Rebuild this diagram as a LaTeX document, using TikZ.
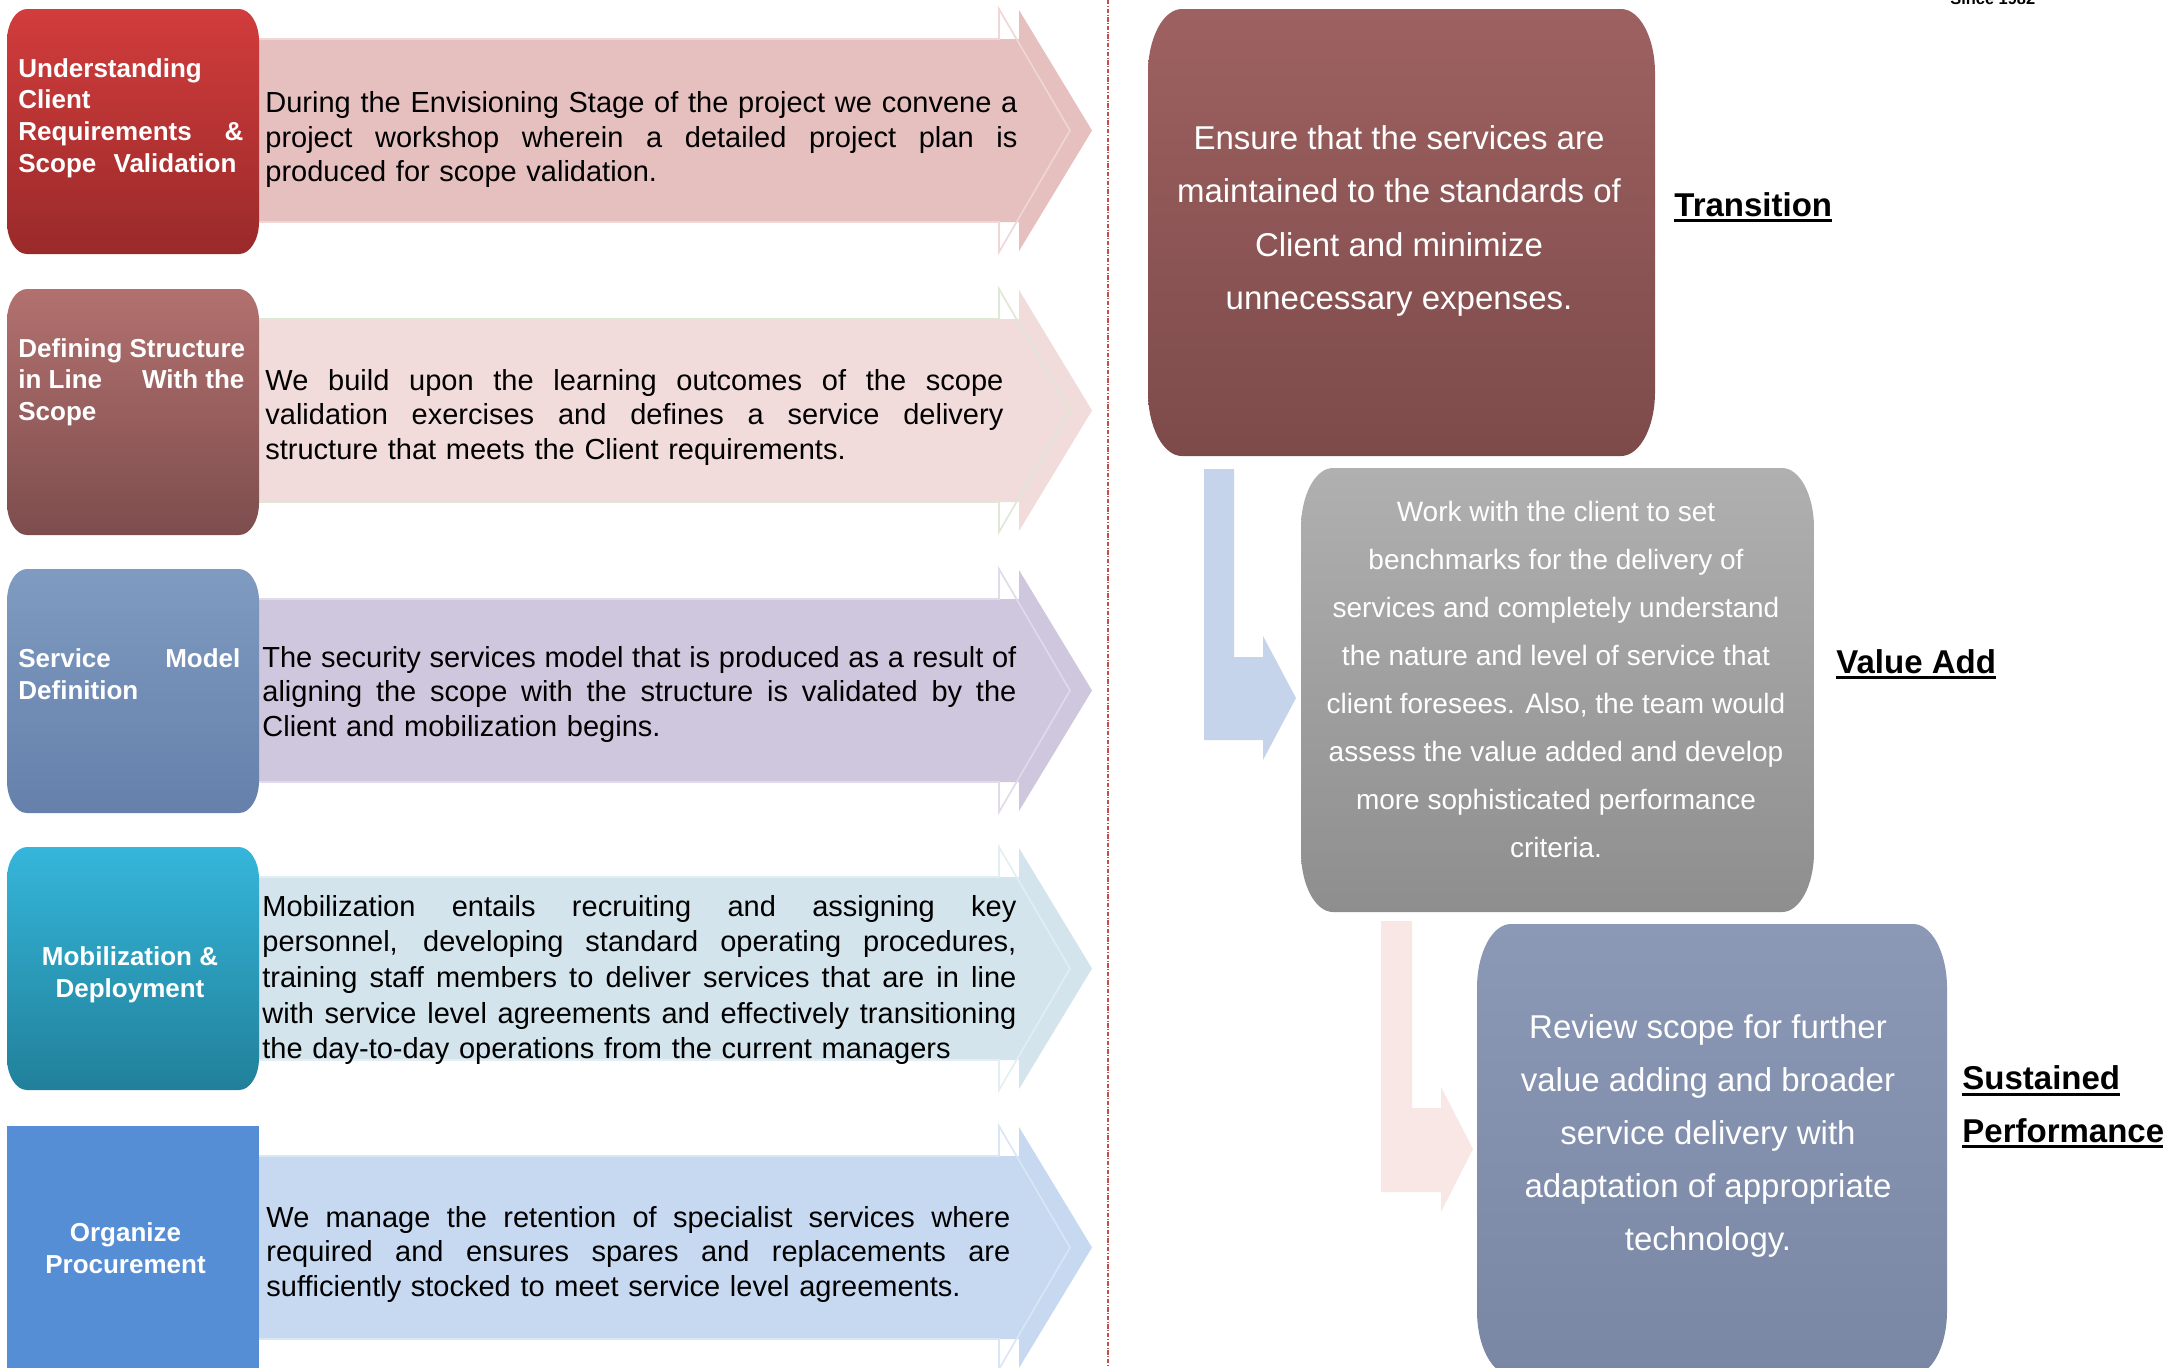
\documentclass[tikz,border=0pt]{standalone}
\usepackage{fontspec}
\setmainfont{Liberation Sans}
\definecolor{b1t}{HTML}{D23C3C}
\definecolor{b1b}{HTML}{9A2A2A}
\definecolor{b2t}{HTML}{B2716F}
\definecolor{b2b}{HTML}{7D4D4D}
\definecolor{b3t}{HTML}{7F9BC1}
\definecolor{b3b}{HTML}{6580AA}
\definecolor{b4t}{HTML}{35B6DA}
\definecolor{b4b}{HTML}{21809A}
\definecolor{b5}{HTML}{558ED5}
\definecolor{a1}{HTML}{E6BFBF}
\definecolor{a1o}{HTML}{F0D6D6}
\definecolor{a2}{HTML}{F2DCDB}
\definecolor{a2o}{HTML}{DDE8D5}
\definecolor{a3}{HTML}{CFC7DD}
\definecolor{a3o}{HTML}{E0DAEA}
\definecolor{a4}{HTML}{D3E4EC}
\definecolor{a4o}{HTML}{E3EEF3}
\definecolor{a5}{HTML}{C6D9F1}
\definecolor{a5o}{HTML}{D9E6F6}
\definecolor{trt}{HTML}{9E6161}
\definecolor{trb}{HTML}{7D4A4A}
\definecolor{grt}{HTML}{B0B0B0}
\definecolor{grb}{HTML}{8E8E8E}
\definecolor{blt}{HTML}{8B98B6}
\definecolor{blb}{HTML}{7987A4}
\definecolor{lblue}{HTML}{C5D4EB}
\definecolor{lpink}{HTML}{F8E7E5}
\definecolor{dred}{HTML}{C0504D}
% rounded box with elliptical corners: style, x0, y0, x1, y1, rx, ry
\newcommand\rbx[7]{%
 \path[#1] ({#2+#6},#3) -- ({#4-#6},#3)
  .. controls ({#4-0.448*#6},#3) and (#4,{#3+0.448*#7}) .. (#4,{#3+#7})
  -- (#4,{#5-#7})
  .. controls (#4,{#5-0.448*#7}) and ({#4-0.448*#6},#5) .. ({#4-#6},#5)
  -- ({#2+#6},#5)
  .. controls ({#2+0.448*#6},#5) and (#2,{#5-0.448*#7}) .. (#2,{#5-#7})
  -- (#2,{#3+#7})
  .. controls (#2,{#3+0.448*#7}) and ({#2+0.448*#6},#3) .. ({#2+#6},#3) -- cycle;}
% big stage arrow: top y, fill colour, outline colour
\newcommand\bigarr[3]{%
 \fill[#2] (258,{#1+30}) -- (1019,{#1+30}) -- (1019,{#1+1}) -- (1092,{#1+121.5})
   -- (1019,{#1+242}) -- (1019,{#1+213}) -- (258,{#1+213}) -- cycle;
 \draw[#3,line width=0.8pt] (258,{#1+30}) -- (999,{#1+30}) -- (999,{#1}) -- (1070,{#1+121.5})
   -- (999,{#1+243}) -- (999,{#1+213}) -- (258,{#1+213});}
\newlength\jw
\newcommand\jl[1]{\leavevmode\hbox to\jw{\spaceskip=0.278em plus 1em minus 0.08em\xspaceskip=\spaceskip #1}}
\newcommand\myul[1]{\setbox0\hbox{#1}\rlap{\rule[-3pt]{\wd0}{1.4pt}}\box0}
\begin{document}
\begin{tikzpicture}[x=0.5pt,y=-0.5pt,
  lbl/.style={text=white,font=\bfseries\fontsize{13}{15.85}\selectfont,inner sep=0pt},
  atxt/.style={text=black,font=\fontsize{14.5}{17.25}\selectfont,inner sep=0pt,
    anchor=west,align=left,text width=#1,execute at begin node={\setlength{\jw}{#1}}},
  rtxt/.style={text=white,inner sep=0pt,align=center},
  head/.style={text=black,font=\bfseries\fontsize{16.5}{20}\selectfont,inner sep=0pt,anchor=base west}]
\useasboundingbox (0,0) rectangle (2163,1367);
\fill[white] (0,0) rectangle (2163,1367);

% ---------- left column: arrows ----------
\bigarr{9}{a1}{a1o}
\bigarr{289}{a2}{a2o}
\bigarr{569}{a3}{a3o}
\bigarr{847}{a4}{a4o}
\bigarr{1126}{a5}{a5o}

% ---------- left column: boxes ----------
\rbx{top color=b1t,bottom color=b1b}{7}{9}{259}{254}{20}{32}
\rbx{top color=b2t,bottom color=b2b}{7}{289}{259}{535}{20}{32}
\rbx{top color=b3t,bottom color=b3b}{7}{569}{259}{813}{20}{32}
\rbx{top color=b4t,bottom color=b4b}{7}{847}{259}{1090}{20}{32}
\fill[b5] (7,1126) rectangle (259,1380);

\node[lbl,anchor=west,align=left] (s1) at (18,118)
  {Understanding\\Client\\\hbox to 112.5pt{Requirements\hfill\&}\\\hbox to 109pt{Scope\hfill Validation}};
\node[lbl,anchor=west,align=left] (s2) at (18,382)
  {Defining Structure\\\hbox to 113pt{in Line\hfill With the}\\Scope};
\node[lbl,anchor=west,align=left] (s3) at (18,674)
  {\hbox to 111pt{Service\hfill Model}\\Definition};
\node[lbl,align=center] (s4) at (130,975) {Mobilization \&\\Deployment};
\node[lbl,align=center] (s5) at (125.5,1248) {Organize\\Procurement};

\node[atxt=376pt] (d1) at (265,139.6)
  {\jl{During the Envisioning Stage of the project we convene a}\\
   \jl{project workshop wherein a detailed project plan is}\\
   produced for scope validation.};
\node[atxt=369pt] (d2) at (265,417)
  {\jl{We build upon the learning outcomes of the scope}\\
   \jl{validation exercises and defines a service delivery}\\
   structure that meets the Client requirements.};
\node[atxt=377pt] (d3) at (262,694)
  {\jl{The security services model that is produced as a result of}\\
   \jl{aligning the scope with the structure is validated by the}\\
   Client and mobilization begins.};
\node[atxt=377pt,font=\fontsize{14.5}{17.8}\selectfont] (d4) at (262,980)
  {\jl{Mobilization entails recruiting and assigning key}\\
   \jl{personnel, developing standard operating procedures,}\\
   \jl{training staff members to deliver services that are in line}\\
   \jl{with service level agreements and effectively transitioning}\\
   the day-to-day operations from the current managers};
\node[atxt=372pt] (d5) at (266,1254)
  {\jl{We manage the retention of specialist services where}\\
   \jl{required and ensures spares and replacements are}\\
   sufficiently stocked to meet service level agreements.};

% ---------- divider ----------
\coordinate (dtop) at (1108,0);
\coordinate (dbot) at (1108,1367);
\draw[dred,line width=0.7pt,dash pattern=on 2.2pt off 0.8pt on 0.5pt off 0.8pt] (dtop) -- (dbot);

% ---------- right column ----------
\rbx{top color=trt,bottom color=trb}{1148}{9}{1655}{456}{34}{64}
\fill[lblue] (1204,469) -- (1234,469) -- (1234,657) -- (1263,657) -- (1263,636)
  -- (1296,698) -- (1263,760) -- (1263,740) -- (1204,740) -- cycle;
\rbx{top color=grt,bottom color=grb}{1301}{468}{1814}{912}{32}{60}
\fill[lpink] (1381,921) -- (1412,921) -- (1412,1108) -- (1441,1108) -- (1441,1087)
  -- (1473,1149) -- (1441,1212) -- (1441,1192) -- (1381,1192) -- cycle;
\rbx{top color=blt,bottom color=blb}{1477}{924}{1947}{1375}{34}{64}

\node[rtxt,font=\fontsize{16.5}{26.7}\selectfont] (tr) at (1399,221)
  {Ensure that the services are\\maintained to the standards of\\Client and minimize\\unnecessary expenses.};
\node[rtxt,font=\fontsize{14}{24}\selectfont] (va) at (1556,679)
  {Work with the client to set\\benchmarks for the delivery of\\services and completely understand\\the nature and level of service that\\client foresees. Also, the team would\\assess the value added and develop\\more sophisticated performance\\criteria.};
\node[rtxt,font=\fontsize{16.5}{26.5}\selectfont] (sp) at (1708,1136)
  {Review scope for further\\value adding and broader\\service delivery with\\adaptation of appropriate\\technology.};

\node[head] (htr) at (1674,216) {\myul{Transition}};
\node[head] (hva) at (1836,673) {\myul{Value Add}};
\node[head] (hsp1) at (1962,1089.5) {\myul{Sustained}};
\node[head] (hsp2) at (1962,1142) {\myul{Performance}};
\node[anchor=base west,inner sep=0pt,font=\bfseries\fontsize{8.2}{10}\selectfont] (since) at (1950,4) {Since 1982};
\end{tikzpicture}
\end{document}
